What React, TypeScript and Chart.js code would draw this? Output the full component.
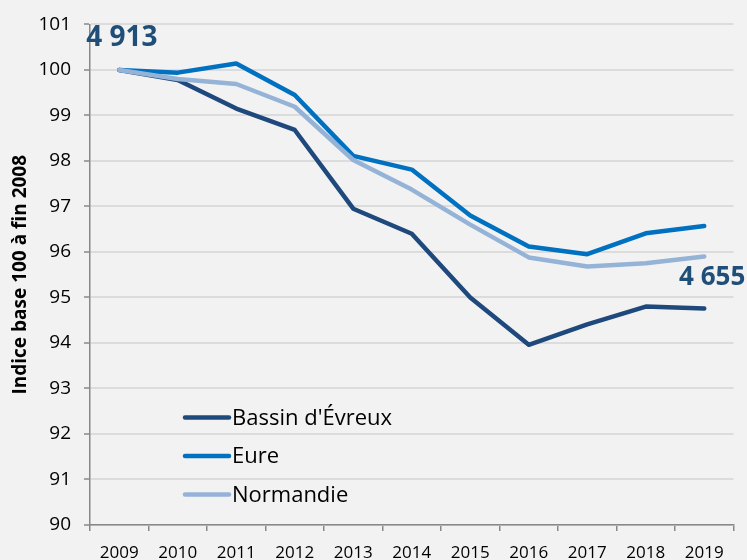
import React, { useEffect, useRef } from "react";
import { Chart, registerables } from "chart.js";

Chart.register(...registerables);

const years = ["2009", "2010", "2011", "2012", "2013", "2014", "2015", "2016", "2017", "2018", "2019"];
const bassinEvreux = [100, 99.78, 99.15, 98.68, 96.95, 96.4, 95.0, 93.96, 94.41, 94.8, 94.76];
const eure = [100, 99.94, 100.14, 99.45, 98.11, 97.81, 96.8, 96.12, 95.95, 96.41, 96.57];
const normandie = [100, 99.8, 99.69, 99.19, 98.02, 97.37, 96.6, 95.88, 95.68, 95.75, 95.9];
const seriesNames = ["Bassin d'Évreux", "Eure", "Normandie"];
const seriesColors = ["#1F497D", "#0070C0", "#95B3D7"];
const yTitle = "Indice base 100 à fin 2008";
const startLabel = "4 913";
const endLabel = "4 655";

const FONT = "'Open Sans', sans-serif";

const bgPlugin = {
  id: "bg",
  beforeDraw(chart: any) {
    const ctx = chart.ctx;
    ctx.save();
    ctx.fillStyle = "#F2F2F2";
    ctx.fillRect(0, 0, chart.width, chart.height);
    ctx.restore();
  },
};

const overlayPlugin = {
  id: "overlay",
  afterDraw(chart: any) {
    const ctx = chart.ctx;
    const xs = chart.scales.x;
    const ys = chart.scales.y;
    ctx.save();
    // legend
    const lx = chart.chartArea.left + 95;
    const ly0 = ys.getPixelForValue(92.36);
    const step = 38.4;
    seriesNames.forEach((name, i) => {
      const y = ly0 + i * step;
      ctx.strokeStyle = seriesColors[i];
      ctx.lineWidth = 4.5;
      ctx.lineCap = "round";
      ctx.beginPath();
      ctx.moveTo(lx, y);
      ctx.lineTo(lx + 44, y);
      ctx.stroke();
      ctx.fillStyle = "#000";
      ctx.font = `22px ${FONT}`;
      ctx.textAlign = "left";
      ctx.textBaseline = "middle";
      ctx.fillText(name, lx + 47, y + 1);
    });
    // annotations
    ctx.fillStyle = "#1F4E79";
    ctx.font = `bold 28px ${FONT}`;
    ctx.textBaseline = "middle";
    ctx.textAlign = "left";
    ctx.fillText(startLabel, xs.getPixelForValue(0) - 33, ys.getPixelForValue(100) - 32);
    ctx.font = `bold 26px ${FONT}`;
    ctx.textAlign = "right";
    ctx.fillText(endLabel, xs.getPixelForValue(10) + 41, ys.getPixelForValue(bassinEvreux[10]) - 31);
    ctx.restore();
  },
};

export default function App() {
  const ref = useRef<HTMLCanvasElement>(null);
  useEffect(() => {
    if (!ref.current) return;
    const datasets = [bassinEvreux, eure, normandie].map((d, i) => ({
      label: seriesNames[i],
      data: d,
      borderColor: seriesColors[i],
      backgroundColor: seriesColors[i],
      borderWidth: 4.5,
      pointRadius: 0,
      tension: 0,
      borderCapStyle: "round" as const,
      borderJoinStyle: "round" as const,
      order: 3 - i,
    }));
    const chart = new Chart(ref.current, {
      type: "line",
      data: { labels: years, datasets },
      options: {
        animation: false,
        responsive: false,
        maintainAspectRatio: false,
        layout: { padding: { top: 23, right: 13.5, left: 0, bottom: 0 } },
        plugins: { legend: { display: false }, tooltip: { enabled: false } },
        scales: {
          x: {
            type: "category",
            offset: true,
            grid: {
              offset: true,
              drawOnChartArea: false,
              drawTicks: true,
              tickLength: 6,
              color: "#888888",
              lineWidth: 1.5,
            },
            border: { color: "#888888", width: 1.5 },
            ticks: { color: "#000", font: { family: FONT, size: 17 }, padding: 12, maxRotation: 0, autoSkip: false },
            afterFit(scale: any) {
              scale.height = 35;
            },
          },
          y: {
            min: 90,
            max: 101,
            ticks: { stepSize: 1, color: "#000", font: { family: FONT, size: 19 }, padding: 13 },
            grid: { color: "#DCDCDC", lineWidth: 2, tickLength: 6, tickColor: "#888888", tickWidth: 1.5 },
            border: { color: "#888888", width: 1.5 },
            title: {
              display: true,
              text: yTitle,
              color: "#000",
              font: { family: FONT, size: 19, weight: "bold" },
              padding: { top: 9, bottom: 0 },
            },
            afterFit(scale: any) {
              scale.width = 90;
            },
          },
        },
      },
      plugins: [bgPlugin, overlayPlugin],
    });
    return () => chart.destroy();
  }, []);
  return (
    <div style={{ position: "absolute", left: 0, top: 0, width: 747, height: 560, background: "#F2F2F2" }}>
      <canvas ref={ref} width={747} height={560} style={{ width: 747, height: 560, display: "block" }} />
    </div>
  );
}
